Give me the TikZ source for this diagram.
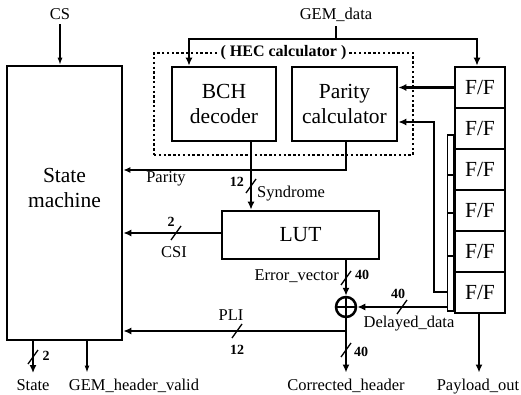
\documentclass[tikz,border=0pt]{standalone}
\usepackage{fontspec}
\setmainfont{Liberation Serif}
\newfontfamily\tms{Liberation Serif}
\usetikzlibrary{arrows.meta}
\begin{document}
\begin{tikzpicture}[x=1pt,y=-1pt,
  every node/.style={font=\tms},
  blk/.style={draw, line width=2.6pt, inner sep=0pt},
  big/.style={font=\tms\fontsize{21.5}{24.5}\selectfont, align=center},
  lbl/.style={font=\tms\fontsize{16.5}{19}\selectfont, inner sep=0pt},
  num/.style={font=\tms\bfseries\fontsize{14}{16}\selectfont, inner sep=0pt},
  wire/.style={line width=2.5pt, -{Latex[length=8pt,width=7pt]}},
  fine/.style={line width=1.2pt, -{Latex[length=7pt,width=5pt]}},
  pwire/.style={line width=1.6pt, -{Latex[length=7pt,width=6pt]}},
  slash/.style={line width=1.3pt},
  hecbox/.style={draw, line width=2.4pt, dash pattern=on 2.4pt off 2.4pt, inner sep=0pt},
]
\useasboundingbox[fill=white] (0,0) rectangle (521,395);

% blocks
\node[blk, minimum width=115pt, minimum height=274pt] (sm) at (64.5,203) {};
\node[big] (smt) at ([yshift=15pt]sm.center) {State\\machine};
\node[hecbox, minimum width=259pt, minimum height=102pt] (hec) at (283.5,104) {};
\node[blk, big, minimum width=104pt, minimum height=74pt] (bch) at (224,104) {BCH\\decoder};
\node[blk, big, minimum width=105pt, minimum height=74pt] (par) at (344.5,104) {Parity\\calculator};
\node[font=\tms\bfseries\fontsize{16}{18}\selectfont, fill=white, inner xsep=3pt, inner ysep=1pt] (hect) at (hec.center |- 0,53) {( HEC calculator )};
\node[blk, big, minimum width=157pt, minimum height=48pt] (lut) at (300.5,235) {LUT};
\foreach \i in {1,...,6}
  \node[blk, big, minimum width=50pt, minimum height=41pt] (ff\i) at (480,46.5+41*\i) {F/F};
\node[draw, line width=1.3pt, minimum width=6pt, minimum height=176pt, inner sep=0pt] (bus) at (450.5,223) {};
\foreach \y in {175,213,256}
  \draw[line width=1.6pt] (bus.west |- 0,\y) -- (bus.east |- 0,\y);
\node[circle, draw, line width=2.5pt, minimum size=20pt, inner sep=0pt] (xor) at (346,307) {};
\draw[line width=2.2pt] ([yshift=10pt]xor.center) -- ([yshift=-10pt]xor.center)
  ([xshift=-10pt]xor.center) -- ([xshift=10pt]xor.center);

% labels
\node[lbl, anchor=base, outer ysep=4pt] (cs) at (60,20) {CS};
\node[lbl, anchor=base, outer ysep=4pt] (gem) at (336,20) {GEM\_data};
\node[lbl, anchor=base, outer ysep=6pt] (st) at (33,390) {State};
\node[lbl, anchor=base, outer ysep=6pt] (ghv) at (134,390) {GEM\_header\_valid};
\node[lbl, anchor=base, outer ysep=6pt] (corr) at (346,390) {Corrected\_header};
\node[lbl, anchor=base, outer ysep=6pt] (pay) at (478,390) {Payload\_out};
\node[lbl, anchor=base] (parl) at (166,183) {Parity};
\node[lbl, anchor=base west] (synl) at (257,197) {Syndrome};
\node[num, anchor=base east] (n12a) at (244,187) {12};
\node[lbl, anchor=base] (csil) at (174,257) {CSI};
\node[num, anchor=base] (n2a) at (171,226) {2};
\node[lbl, anchor=base] (plil) at (231,320) {PLI};
\node[num, anchor=base] (n12b) at (237,354) {12};
\node[num, anchor=base] (n2b) at (46,360) {2};
\node[lbl, anchor=base east] (evl) at (339,280) {Error\_vector};
\node[num, anchor=base] (n40a) at (362,279) {40};
\node[num, anchor=base] (n40b) at (398,298) {40};
\node[lbl, anchor=base] (ddl) at (409,327) {Delayed\_data};
\node[num, anchor=base] (n40c) at (361,356) {40};

% connectors
\coordinate (gj) at (336,39);
\draw[line width=2.5pt] (gem.south) -- (gj);
\draw[wire] (gj) -| (bch.north -| 189,0);
\draw[wire] (gj) -| (ff1.north -| 477,0);
\draw[fine] (cs.south) -- (cs.south |- sm.north);
\draw[wire] (ff1.west) -- (ff1.west -| par.east);
\draw[wire] (bus.west |- 0,292) -| (434,122) -- (par.east |- 0,122);
\draw[wire] (bus.west |- xor.east) -- (xor.east);
\draw[pwire] ([xshift=1.5pt]par.south) |- (sm.east |- 0,170);
\draw[wire] (bch.south -| 251,0) -- (lut.north -| 251,0);
\draw[wire] (lut.west |- 0,233) -- (sm.east |- 0,233);
\draw[wire] (lut.south -| xor.north) -- (xor.north);
\draw[wire] (xor.south) -- (corr.north);
\coordinate (pj) at (xor.south |- 0,331);
\draw[wire] (pj) -- (sm.east |- pj);
\draw[wire] (ff6.south -| 479,0) -- (pay.north -| 479,0);
\draw[wire] (sm.south -| st.north) -- (st.north);
\draw[fine] (sm.south -| 87,0) -- (ghv.north -| 87,0);

% bus-width marks
\foreach \x/\y in {251/186, 176/233, 237/331, 33/357, 346/278, 402/307, 346/350}
  \draw[slash] (\x,\y) ++(-5,7) -- ++(10,-14);
\end{tikzpicture}
\end{document}
